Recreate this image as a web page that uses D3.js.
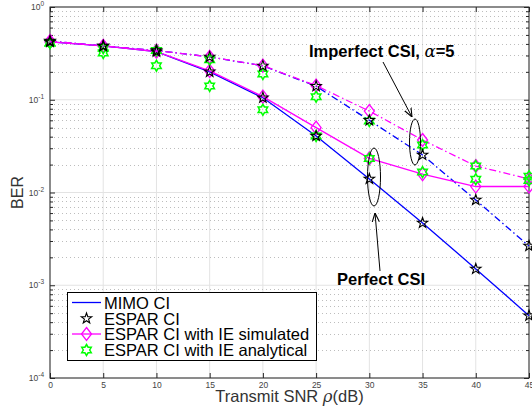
<!DOCTYPE html>
<html>
<head>
<meta charset="utf-8">
<script src="https://cdn.jsdelivr.net/npm/d3@7"></script>
<style>
  body { margin: 0; background: #fff; }
  text { font-family: "Liberation Sans", Arial, sans-serif; }
</style>
</head>
<body>
<script>
// SNR values (dB)
var snr = [0, 5, 10, 15, 20, 25, 30, 35, 40, 45]

// perfect CSI
var mimoPerfect = [0.42, 0.38, 0.33, 0.20, 0.105, 0.0406, 0.014, 0.0047, 0.0015, 0.00047]
var esparPerfect = [0.42, 0.38, 0.33, 0.20, 0.105, 0.0406, 0.014, 0.0047, 0.0015, 0.00047]
var ieSimPerfect = [0.42, 0.38, 0.33, 0.205, 0.108, 0.050, 0.0233, 0.0158, 0.0116, 0.0116]
var ieAnaPerfect = [0.41, 0.32, 0.233, 0.141, 0.078, 0.0406, 0.0233, 0.0166, 0.0139, 0.0135]

// imperfect CSI, alpha = 5
var mimoImperfect = [0.43, 0.38, 0.34, 0.29, 0.232, 0.14, 0.06, 0.0254, 0.0083, 0.00265]
var esparImperfect = [0.43, 0.38, 0.34, 0.29, 0.232, 0.14, 0.06, 0.0254, 0.0083, 0.00265]
var ieSimImperfect = [0.43, 0.38, 0.34, 0.29, 0.233, 0.142, 0.0755, 0.0368, 0.0193, 0.014]
var ieAnaImperfect = [0.41, 0.36, 0.34, 0.27, 0.19, 0.108, 0.059, 0.0325, 0.0193, 0.015]

var xTicks = [0, 5, 10, 15, 20, 25, 30, 35, 40, 45]
var yTicks = [1e-4, 1e-3, 1e-2, 1e-1, 1]
var legendLabels = ['MIMO CI', 'ESPAR CI', 'ESPAR CI with IE simulated', 'ESPAR CI with IE analytical']

var W = 532, H = 412
var margin = { top: 7, right: 3, bottom: 34, left: 50 }

var svg = d3.select('body').append('svg')
    .attr('width', W)
    .attr('height', H)

var x = d3.scaleLinear().domain([0, 45]).range([margin.left, W - margin.right])
var y = d3.scaleLog().domain([1e-4, 1]).range([H - margin.bottom, margin.top])

var x0 = x.range()[0], x1 = x.range()[1]
var y0 = y.range()[0], y1 = y.range()[1]

// minor values for the log axis
var minor = []
for (var e = -4; e < 0; e++) {
    for (var m = 2; m <= 9; m++) minor.push(m * Math.pow(10, e))
}

// grid
var grid = svg.append('g')
grid.selectAll('.gx').data(xTicks).enter().append('line')
    .attr('x1', d => x(d)).attr('x2', d => x(d))
    .attr('y1', y1).attr('y2', y0)
    .attr('stroke', '#e3e3e3').attr('stroke-width', 1)
grid.selectAll('.gy').data(yTicks).enter().append('line')
    .attr('x1', x0).attr('x2', x1)
    .attr('y1', d => y(d)).attr('y2', d => y(d))
    .attr('stroke', '#e3e3e3').attr('stroke-width', 1)
grid.selectAll('.gm').data(minor).enter().append('line')
    .attr('x1', x0).attr('x2', x1)
    .attr('y1', d => Math.round(y(d)) + 0.5).attr('y2', d => Math.round(y(d)) + 0.5)
    .attr('stroke', '#bdbdbd').attr('stroke-width', 1)
    .attr('stroke-dasharray', '1,3')

// axes (ticks pointing inward)
var axisColor = '#262626'
var gxb = svg.append('g')
    .attr('transform', 'translate(0,' + y0 + ')')
    .call(d3.axisBottom(x).tickValues(xTicks).tickSizeInner(-5).tickSizeOuter(0).tickPadding(4))
var gxt = svg.append('g')
    .attr('transform', 'translate(0,' + y1 + ')')
    .call(d3.axisTop(x).tickValues(xTicks).tickSizeInner(-5).tickSizeOuter(0).tickFormat(''))
var gyl = svg.append('g')
    .attr('transform', 'translate(' + x0 + ',0)')
    .call(d3.axisLeft(y).tickValues(yTicks).tickSizeInner(-5).tickSizeOuter(0).tickPadding(6))
var gyr = svg.append('g')
    .attr('transform', 'translate(' + x1 + ',0)')
    .call(d3.axisRight(y).tickValues(yTicks).tickSizeInner(-5).tickSizeOuter(0).tickFormat(''))
var gyl2 = svg.append('g')
    .attr('transform', 'translate(' + x0 + ',0)')
    .call(d3.axisLeft(y).tickValues(minor).tickSizeInner(-3).tickSizeOuter(0).tickFormat(''))
var gyr2 = svg.append('g')
    .attr('transform', 'translate(' + x1 + ',0)')
    .call(d3.axisRight(y).tickValues(minor).tickSizeInner(-3).tickSizeOuter(0).tickFormat(''))

;[gxb, gxt, gyl, gyr, gyl2, gyr2].forEach(g => {
    g.select('.domain').remove()
    g.selectAll('line').attr('stroke', axisColor)
})
gxb.selectAll('text').attr('fill', '#444').attr('font-size', 8.5)
    .attr('font-family', '"Liberation Sans", Arial, sans-serif')

// y tick labels as 10^n
gyl.selectAll('text').each(function (d) {
    var t = d3.select(this)
    t.text(null).attr('fill', '#444').attr('font-size', 8.5)
        .attr('font-family', '"Liberation Sans", Arial, sans-serif')
    t.append('tspan').text('10')
    t.append('tspan').attr('dy', -4).attr('font-size', 6.5).text(Math.round(Math.log10(d)))
})

// box
svg.append('rect')
    .attr('x', x0).attr('y', y1)
    .attr('width', x1 - x0).attr('height', y0 - y1)
    .attr('fill', 'none').attr('stroke', axisColor).attr('stroke-width', 1)

var plot = svg.append('g')

// marker shapes
function starPath(r, points, ratio) {
    var pts = []
    for (var i = 0; i < points * 2; i++) {
        var rr = i % 2 === 0 ? r : r * ratio
        var a = -Math.PI / 2 + i * Math.PI / points
        pts.push([rr * Math.cos(a), rr * Math.sin(a)])
    }
    return 'M' + pts.map(p => p[0].toFixed(2) + ',' + p[1].toFixed(2)).join('L') + 'Z'
}
var pentagram = starPath(5.5, 5, 0.4)
var hexagram = starPath(5.5, 6, 0.58)
var diamond = 'M0,-6.5L5,0L0,6.5L-5,0Z'

var line = d3.line()
    .x((d, i) => x(snr[i]))
    .y(d => y(d))

function drawLine(vals, color, dash) {
    plot.append('path')
        .datum(vals)
        .attr('d', line)
        .attr('fill', 'none')
        .attr('stroke', color)
        .attr('stroke-width', 1.3)
        .attr('stroke-dasharray', dash || null)
}
function drawMarkers(vals, shape, color, sw) {
    plot.append('g').selectAll('path').data(vals).enter().append('path')
        .attr('d', shape)
        .attr('transform', (d, i) => 'translate(' + x(snr[i]) + ',' + y(d) + ')')
        .attr('fill', 'none')
        .attr('stroke', color)
        .attr('stroke-width', sw || 1.3)
}

var dashdot = '7,3,1.5,3'
drawLine(mimoPerfect, '#0000ff')
drawLine(mimoImperfect, '#0000ff', dashdot)
drawLine(ieSimPerfect, '#ff00ff')
drawLine(ieSimImperfect, '#ff00ff', dashdot)
drawMarkers(ieSimPerfect, diamond, '#ff00ff')
drawMarkers(ieSimImperfect, diamond, '#ff00ff')
drawMarkers(ieAnaPerfect, hexagram, '#00ff00', 1.5)
drawMarkers(ieAnaImperfect, hexagram, '#00ff00', 1.5)
drawMarkers(esparPerfect, pentagram, '#000000', 1.1)
drawMarkers(esparImperfect, pentagram, '#000000', 1.1)

// annotations
var ann = svg.append('g')
ann.append('defs').append('marker')
    .attr('id', 'arrow')
    .attr('viewBox', '0 0 10 10')
    .attr('refX', 10).attr('refY', 5)
    .attr('markerWidth', 9).attr('markerHeight', 9)
    .attr('orient', 'auto')
    .append('path').attr('d', 'M0,1L10,5L0,9')
    .attr('fill', 'none').attr('stroke', '#000').attr('stroke-width', 1.2)

ann.append('ellipse')
    .attr('cx', 374).attr('cy', 177)
    .attr('rx', 6.5).attr('ry', 29)
    .attr('fill', 'none').attr('stroke', '#000').attr('stroke-width', 1)
ann.append('ellipse')
    .attr('cx', 415).attr('cy', 142)
    .attr('rx', 5.5).attr('ry', 23)
    .attr('fill', 'none').attr('stroke', '#000').attr('stroke-width', 1)

ann.append('line')
    .attr('x1', 383).attr('y1', 62).attr('x2', 412).attr('y2', 117)
    .attr('stroke', '#000').attr('stroke-width', 1)
    .attr('marker-end', 'url(#arrow)')
ann.append('line')
    .attr('x1', 380).attr('y1', 271).attr('x2', 375).attr('y2', 213)
    .attr('stroke', '#000').attr('stroke-width', 1)
    .attr('marker-end', 'url(#arrow)')

var t1 = ann.append('text')
    .attr('x', 309).attr('y', 57)
    .attr('font-size', 16.5).attr('font-weight', 'bold')
t1.append('tspan').text('Imperfect CSI, ')
t1.append('tspan').attr('font-family', '"DejaVu Serif", "Liberation Serif", serif')
    .attr('font-style', 'italic').attr('font-weight', 'normal').text('α')
t1.append('tspan').text('=5')

ann.append('text')
    .attr('x', 337).attr('y', 285)
    .attr('font-size', 16.5).attr('font-weight', 'bold')
    .text('Perfect CSI')

// axis labels
svg.append('text')
    .attr('transform', 'translate(23,' + ((y0 + y1) / 2) + ') rotate(-90)')
    .attr('text-anchor', 'middle')
    .attr('font-size', 16).attr('fill', '#333')
    .text('BER')

var xl = svg.append('text')
    .attr('x', (x0 + x1) / 2).attr('y', 402)
    .attr('text-anchor', 'middle')
    .attr('font-size', 16.5).attr('fill', '#333')
xl.append('tspan').text('Transmit SNR ')
xl.append('tspan').attr('font-family', '"DejaVu Serif", "Liberation Serif", serif')
    .attr('font-style', 'italic').text('ρ')
xl.append('tspan').text('(dB)')

// legend
var lg = svg.append('g')
lg.append('rect')
    .attr('x', 67.5).attr('y', 292.5)
    .attr('width', 249).attr('height', 68)
    .attr('fill', '#fff').attr('stroke', '#000').attr('stroke-width', 1)
var rowY = [302.5, 318.5, 334, 350]
var legendItems = [
    { line: '#0000ff', shape: null },
    { line: null, shape: pentagram, color: '#000', sw: 1.1 },
    { line: '#ff00ff', shape: diamond, color: '#ff00ff', sw: 1.3 },
    { line: null, shape: hexagram, color: '#00ff00', sw: 1.5 }
]
legendItems.forEach((it, i) => {
    var g = lg.append('g').attr('transform', 'translate(0,' + rowY[i] + ')')
    if (it.line) {
        g.append('line').attr('x1', 72).attr('x2', 101).attr('y1', 0).attr('y2', 0)
            .attr('stroke', it.line).attr('stroke-width', 1.3)
    }
    if (it.shape) {
        g.append('path').attr('d', it.shape)
            .attr('transform', 'translate(86.5,0)')
            .attr('fill', 'none').attr('stroke', it.color).attr('stroke-width', it.sw)
    }
    g.append('text').attr('x', 104).attr('y', 6)
        .attr('font-size', 16.5).attr('fill', '#000')
        .text(legendLabels[i])
})
</script>
</body>
</html>
